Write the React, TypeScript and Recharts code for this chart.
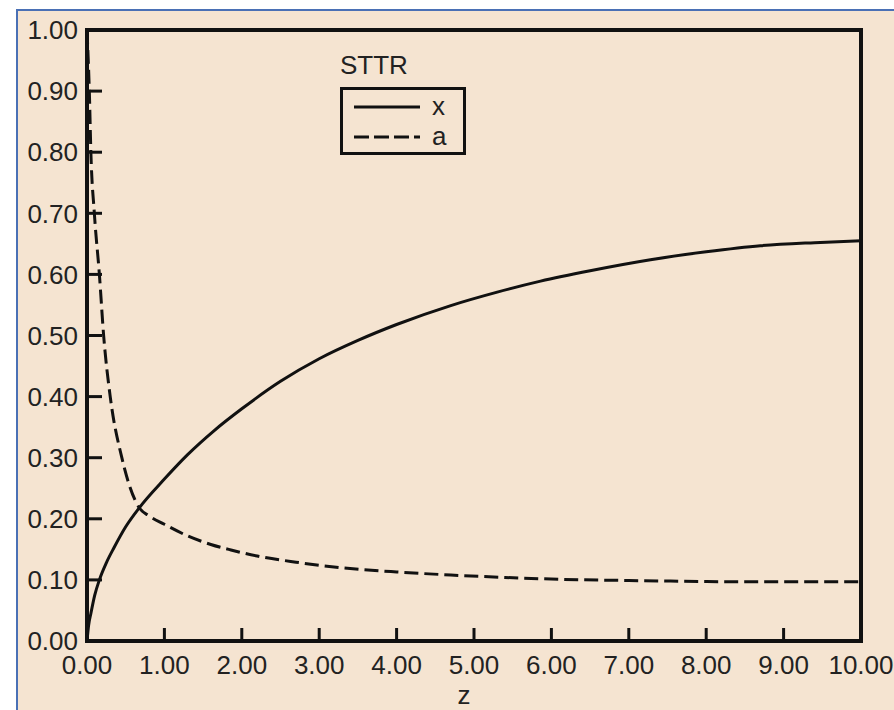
import React from 'react';
import { LineChart, Line, XAxis, YAxis, ReferenceArea, Label } from 'recharts';

// z values and readings for x (solid)
const zSolid = [0, 0.02, 0.05, 0.1, 0.16, 0.25, 0.35, 0.5, 0.675, 1.0, 1.3, 1.64, 2.0, 2.5, 3.0, 3.5, 4.0, 4.7, 5.3, 5.86, 6.5, 7.28, 8.0, 8.7, 9.4, 10];
const xValues = [0, 0.025, 0.045, 0.075, 0.1, 0.128, 0.153, 0.187, 0.218, 0.265, 0.305, 0.344, 0.38, 0.425, 0.462, 0.492, 0.518, 0.549, 0.571, 0.589, 0.606, 0.624, 0.637, 0.647, 0.652, 0.655];

// z values and readings for a (dashed)
const zDashed = [0, 0.01, 0.03, 0.05, 0.095, 0.16, 0.215, 0.3, 0.45, 0.675, 0.8, 1.0, 1.3, 1.6, 1.86, 2.2, 2.7, 3.28, 4.0, 4.7, 5.4, 6.12, 7.0, 7.54, 8.5, 10];
const aValues = [1.0, 0.97, 0.9, 0.8, 0.7, 0.6, 0.5, 0.4, 0.3, 0.218, 0.205, 0.191, 0.172, 0.158, 0.149, 0.139, 0.129, 0.12, 0.113, 0.108, 0.104, 0.101, 0.099, 0.098, 0.097, 0.097];

const xTicks = [0, 1, 2, 3, 4, 5, 6, 7, 8, 9, 10];
const yTicks = [0, 0.1, 0.2, 0.3, 0.4, 0.5, 0.6, 0.7, 0.8, 0.9, 1.0];

const seriesNames = ['x', 'a'];

const solidData = zSolid.map((z, i) => ({ z, value: xValues[i] }));
const dashedData = zDashed.map((z, i) => ({ z, value: aValues[i] }));

const BEIGE = '#f5e4d1';
const FONT = '"Liberation Sans", Arial, sans-serif';
const FS = 26;

// legend drawn as an overlay so the chart keeps its full plot height
const LegendBox = () => (
  <div style={{ position: 'absolute', left: 340, top: 51, fontFamily: FONT, color: '#222' }}>
    <div style={{ position: 'absolute', left: 0, top: 0, fontSize: FS, lineHeight: '28px' }}>STTR</div>
    <div
      style={{
        position: 'absolute',
        left: 0,
        top: 36,
        width: 126,
        height: 68,
        border: '3px solid #111',
        boxSizing: 'border-box',
      }}
    >
      <svg width={120} height={62} style={{ position: 'absolute', left: 0, top: 0, overflow: 'visible' }}>
        <line x1={11} y1={17} x2={77} y2={17} stroke="#111" strokeWidth={3} />
        <line x1={11} y1={47} x2={77} y2={47} stroke="#111" strokeWidth={3} strokeDasharray="15 5" />
        <text x={89} y={25} fontSize={FS} fill="#222" fontFamily={FONT}>{seriesNames[0]}</text>
        <text x={89} y={55} fontSize={FS} fill="#222" fontFamily={FONT}>{seriesNames[1]}</text>
      </svg>
    </div>
  </div>
);

export default function App() {
  return (
    <div style={{ position: 'absolute', left: 0, top: 0, width: 894, height: 710, background: '#fff', overflow: 'hidden' }}>
      <div
        style={{
          position: 'absolute',
          left: 16,
          top: 9,
          width: 900,
          height: 720,
          background: BEIGE,
          border: '2px solid #4a70b5',
        }}
      />
      <div style={{ position: 'absolute', left: 0, top: 0 }}>
        <LineChart width={894} height={710} margin={{ top: 30, right: 33, bottom: 0, left: 0 }}>
          <XAxis
            dataKey="z"
            type="number"
            domain={[0, 10]}
            ticks={xTicks}
            allowDuplicatedCategory={false}
            height={69}
            tickFormatter={(v: number) => v.toFixed(2)}
            tick={{ fill: '#222', fontSize: FS, fontFamily: FONT }}
            tickSize={-13}
            tickMargin={28}
            tickLine={{ stroke: '#111', strokeWidth: 3 }}
            axisLine={false}
          >
            <Label value="z" position="insideBottom" offset={6} dx={-10} fill="#222" fontSize={FS} fontFamily={FONT} />
          </XAxis>
          <YAxis
            type="number"
            domain={[0, 1]}
            ticks={yTicks}
            width={87}
            tickFormatter={(v: number) => v.toFixed(2)}
            tick={{ fill: '#222', fontSize: FS, fontFamily: FONT }}
            tickSize={-15}
            tickMargin={24}
            tickLine={{ stroke: '#111', strokeWidth: 3 }}
            axisLine={false}
          />
          <ReferenceArea x1={0} x2={10} y1={0} y2={1} fill="none" stroke="#111" strokeWidth={4} />
          <Line
            data={solidData}
            dataKey="value"
            type="monotone"
            stroke="#111"
            strokeWidth={3}
            dot={false}
            isAnimationActive={false}
          />
          <Line
            data={dashedData}
            dataKey="value"
            type="monotone"
            stroke="#111"
            strokeWidth={3}
            strokeDasharray="14 6"
            dot={false}
            isAnimationActive={false}
          />
        </LineChart>
      </div>
      <LegendBox />
    </div>
  );
}
